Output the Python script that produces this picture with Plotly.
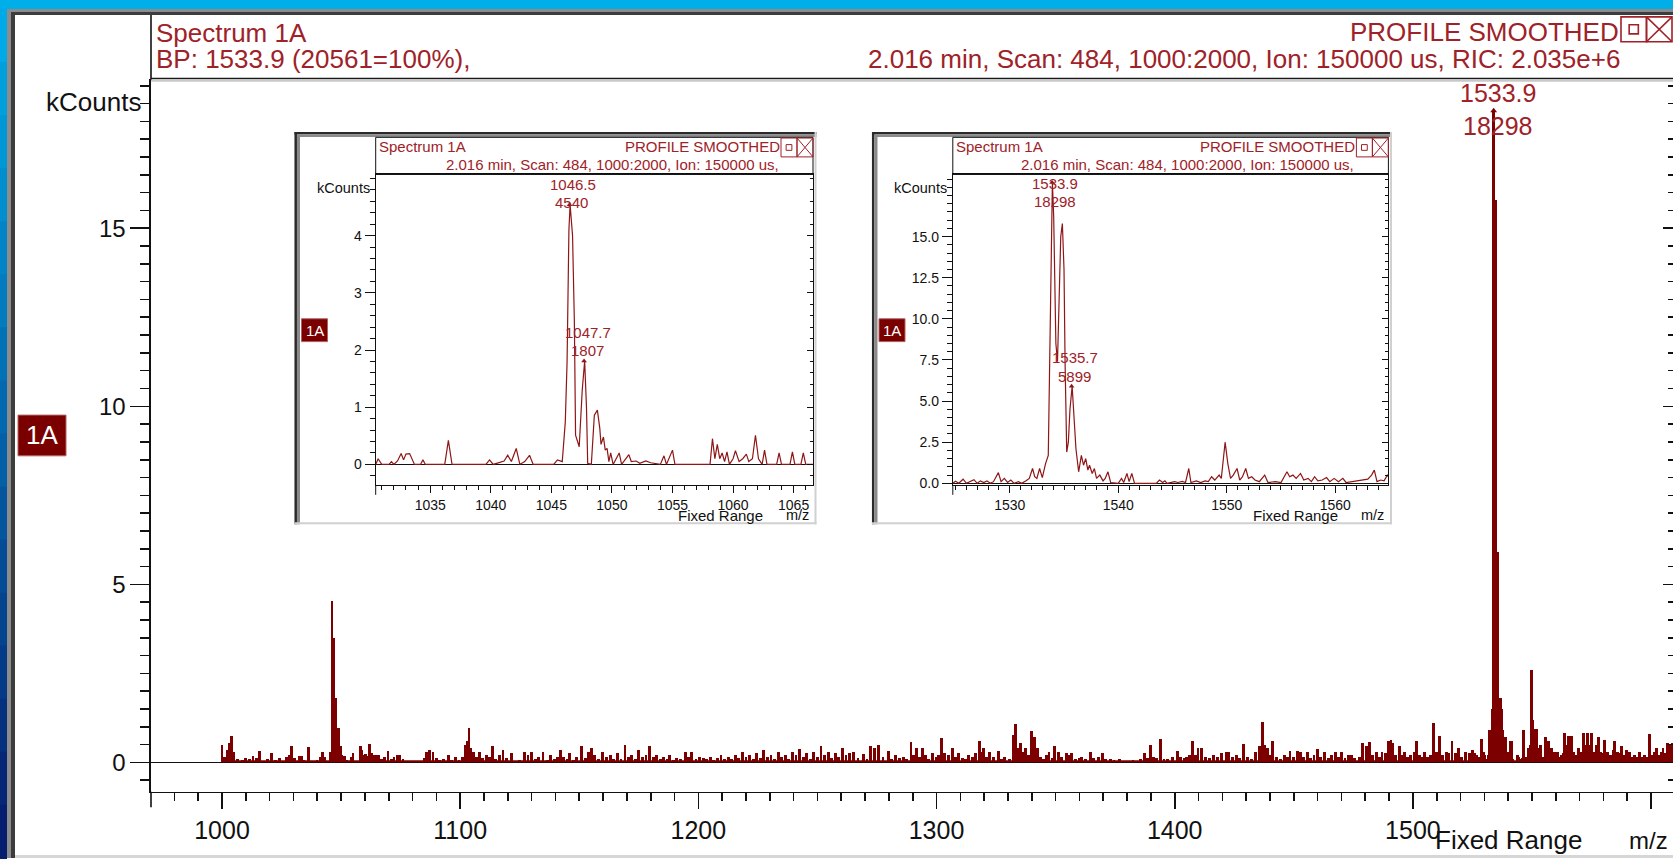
import plotly.graph_objects as go

W, H = 1673, 864

# ------------------------------------------------------------------ data
# main spectrum: (m/z, kCounts) sticks read from the full-range view
main_sticks = [
    (1000.0,0.49),(1001.0,0.15),(1002.2,0.35),(1003.0,0.55),(1004.0,0.73),(1005.0,0.30),(1006.5,0.10),(1008.5,0.08),(1010.0,0.12),(1011.5,0.10),
    (1013.0,0.18),(1014.5,0.12),(1015.6,0.33),(1017.5,0.05),(1019.0,0.10),(1020.8,0.27),(1022.5,0.08),(1024.0,0.12),(1025.5,0.05),(1027.0,0.15),
    (1028.2,0.20),(1029.2,0.45),(1030.5,0.12),(1031.8,0.05),(1032.6,0.19),(1033.3,0.19),(1034.4,0.08),(1035.5,0.03),(1036.5,0.42),(1038.0,0.02),
    (1039.9,0.08),(1041.4,0.16),(1042.1,0.28),(1043.2,0.16),(1044.3,0.03),(1045.5,0.30),
    (1046.2,4.54),(1046.9,3.50),(1047.6,1.80),(1048.3,0.97),(1049.0,0.97),(1049.7,0.45),(1050.4,0.20),
    (1051.4,0.17),(1052.5,0.06),(1053.5,0.05),(1054.3,0.15),(1055.0,0.25),(1056.0,0.02),(1057.0,0.02),(1058.3,0.45),(1058.8,0.35),(1059.5,0.22),
    (1060.2,0.24),(1061.1,0.18),(1061.85,0.51),(1062.6,0.25),(1063.8,0.20),(1064.9,0.22),(1065.8,0.20),
    (1067.0,0.10),(1068.2,0.15),(1069.7,0.33),(1071.0,0.10),(1072.2,0.15),(1073.5,0.20),(1074.7,0.22),(1076.0,0.10),(1077.5,0.05),(1079.0,0.04),
    (1080.5,0.05),(1082.0,0.04),(1083.5,0.05),(1085.0,0.12),(1086.0,0.30),(1087.2,0.35),(1088.6,0.30),(1090.0,0.12),(1091.5,0.08),(1093.0,0.10),
    (1095.0,0.20),(1096.5,0.08),(1098.0,0.15),(1099.5,0.06),(1101.0,0.15),(1102.2,0.50),(1103.0,0.60),(1103.7,0.97),(1104.5,0.40),(1105.5,0.30),
    (1106.8,0.15),(1108.0,0.30),(1109.5,0.12),(1111.0,0.20),(1112.3,0.15),(1113.6,0.45),(1115.0,0.10),(1116.5,0.20),(1118.0,0.35),(1119.5,0.12),
    (1121.6,0.25),(1123.0,0.05),(1125.0,0.08),(1127.0,0.30),(1128.5,0.20),(1130.0,0.30),(1131.5,0.10),(1133.0,0.15),(1134.8,0.28),(1136.5,0.08),
    (1138.0,0.20),(1139.5,0.10),(1141.0,0.15),(1142.0,0.35),(1143.5,0.15),(1145.0,0.10),(1146.0,0.25),(1147.5,0.08),(1149.0,0.15),(1151.0,0.45),
    (1152.5,0.12),(1153.7,0.28),(1155.1,0.40),(1156.5,0.20),(1158.0,0.10),(1159.8,0.30),(1161.5,0.15),(1163.0,0.20),(1164.5,0.10),(1166.0,0.25),
    (1167.5,0.10),(1169.2,0.50),(1170.8,0.15),(1172.0,0.20),(1173.5,0.10),(1174.8,0.35),(1176.5,0.15),(1178.0,0.20),(1179.5,0.46),(1181.0,0.15),
    (1182.5,0.20),(1184.0,0.10),(1185.5,0.15),(1187.0,0.10),(1188.0,0.20),(1189.5,0.08),(1191.0,0.12),(1192.5,0.10),(1194.5,0.30),(1196.0,0.15),
    (1197.3,0.30),(1199.0,0.10),(1200.5,0.15),(1202.0,0.12),(1203.5,0.10),(1205.0,0.15),(1206.5,0.08),(1208.0,0.12),(1209.5,0.20),(1211.0,0.10),
    (1212.5,0.15),(1214.0,0.10),(1215.5,0.20),(1217.0,0.12),(1218.5,0.30),(1220.0,0.15),(1221.5,0.20),(1223.0,0.10),(1224.5,0.25),(1226.0,0.12),
    (1227.5,0.35),(1229.0,0.15),(1230.5,0.20),(1232.0,0.10),(1233.5,0.30),(1235.0,0.15),(1236.5,0.22),(1238.0,0.10),(1239.5,0.30),(1241.0,0.20),
    (1242.5,0.38),(1244.0,0.15),(1245.5,0.25),(1247.0,0.10),(1248.5,0.30),(1250.0,0.15),(1251.5,0.45),(1253.0,0.20),(1254.5,0.30),(1256.0,0.12),
    (1257.5,0.25),(1259.0,0.15),(1260.5,0.40),(1262.0,0.20),(1263.5,0.25),
    (1265.2,0.29),(1267.0,0.12),(1269.2,0.23),(1270.8,0.10),(1272.4,0.45),(1274.0,0.40),(1275.7,0.50),(1277.5,0.15),(1279.7,0.33),(1281.2,0.10),
    (1282.9,0.20),(1284.5,0.12),(1286.0,0.15),(1287.5,0.10),(1289.3,0.57),(1290.5,0.20),(1291.7,0.40),(1293.0,0.15),(1294.1,0.40),(1295.5,0.20),
    (1296.8,0.10),(1298.2,0.25),(1299.8,0.15),(1301.0,0.20),(1302.2,0.68),(1303.5,0.25),(1305.0,0.20),(1306.7,0.40),(1308.0,0.15),(1309.4,0.25),
    (1311.0,0.12),(1312.0,0.10),(1313.4,0.20),(1315.0,0.15),(1316.5,0.25),(1317.9,0.60),(1319.0,0.30),(1319.8,0.40),(1321.0,0.15),(1322.3,0.28),
    (1324.0,0.15),(1325.9,0.33),(1327.2,0.10),(1328.7,0.15),(1330.5,0.10),(1332.4,0.77),(1333.2,1.07),(1334.2,0.40),(1335.1,0.54),(1336.3,0.30),
    (1337.5,0.40),(1338.7,0.20),(1339.9,0.88),(1341.0,0.72),(1342.3,0.40),(1343.5,0.15),(1345.0,0.10),(1346.0,0.20),(1347.2,0.30),(1348.5,0.12),
    (1349.6,0.45),(1351.2,0.30),(1352.5,0.15),(1354.4,0.25),(1355.5,0.20),(1356.8,0.25),(1358.5,0.10),(1360.0,0.12),(1360.8,0.15),(1362.5,0.10),
    (1364.5,0.30),(1366.0,0.12),(1368.0,0.15),(1369.7,0.25),(1371.0,0.10),(1372.9,0.10),(1374.5,0.08),(1376.9,0.10),(1378.5,0.05),(1380.9,0.05),
    (1382.5,0.08),(1384.1,0.05),(1385.8,0.10),(1387.3,0.27),(1388.5,0.12),(1389.8,0.50),(1391.0,0.15),(1392.5,0.12),(1394.1,0.66),(1395.5,0.10),
    (1397.0,0.10),(1399.0,0.15),(1401.0,0.33),(1402.5,0.15),(1404.0,0.12),(1405.0,0.15),(1406.2,0.20),(1407.4,0.60),(1408.6,0.20),(1409.8,0.40),
    (1411.4,0.40),(1412.8,0.15),(1414.5,0.12),(1416.3,0.20),(1418.0,0.15),(1419.5,0.26),(1421.5,0.30),(1422.7,0.30),(1424.2,0.15),(1425.9,0.20),
    (1427.3,0.12),(1428.8,0.52),(1430.5,0.15),(1432.3,0.10),(1434.0,0.30),(1435.6,0.45),(1436.8,1.13),(1437.8,0.50),(1438.8,0.40),(1440.0,0.20),
    (1441.2,0.60),(1442.8,0.15),(1444.4,0.10),(1446.0,0.20),(1447.2,0.15),(1448.4,0.33),(1450.0,0.15),(1451.6,0.33),(1452.8,0.30),(1454.2,0.15),
    (1455.7,0.30),(1457.0,0.12),(1458.5,0.20),(1459.9,0.38),(1461.3,0.15),(1462.9,0.30),(1464.5,0.12),(1466.0,0.20),(1467.4,0.28),(1468.7,0.15),
    (1470.1,0.28),(1471.5,0.12),(1473.0,0.20),(1474.1,0.20),(1475.5,0.12),(1477.5,0.15),(1479.0,0.54),(1480.4,0.45),(1481.8,0.56),(1483.2,0.20),
    (1484.6,0.30),(1486.0,0.15),(1487.0,0.30),(1488.5,0.25),(1489.8,0.60),(1490.8,0.63),(1491.5,0.55),(1492.8,0.20),(1494.2,0.45),(1495.2,0.20),
    (1496.3,0.30),(1497.8,0.15),(1499.0,0.20),(1500.5,0.30),(1501.5,0.60),(1502.8,0.20),(1504.0,0.15),(1504.7,0.30),(1506.0,0.15),(1507.3,0.20),
    (1508.6,1.10),(1510.0,0.30),(1511.3,0.73),(1512.5,0.20),(1514.0,0.30),(1515.0,0.25),(1516.4,0.60),(1517.8,0.25),(1519.0,0.40),(1520.5,0.15),
    (1522.0,0.30),(1523.9,0.25),(1525.0,0.35),(1525.7,0.25),(1526.7,0.22),(1527.6,0.15),(1528.95,0.65),(1529.5,0.30),(1530.1,0.20),(1530.9,0.10),
    (1531.5,0.20),
    (1532.1,0.90),(1532.75,0.90),(1533.3,1.50),(1533.9,18.298),(1534.35,15.8),(1534.85,15.8),(1535.3,5.90),(1535.75,5.90),(1536.25,1.80),(1536.7,1.80),
    (1537.2,1.50),(1537.7,0.90),(1538.3,0.50),(1539.05,0.70),(1539.7,0.20),(1540.3,0.30),(1540.8,0.60),(1541.25,0.60),
    (1542.0,0.10),(1543.0,0.05),(1543.8,0.20),(1544.3,0.15),(1545.2,0.10),(1545.9,0.12),(1546.5,0.90),(1547.3,0.15),(1548.0,0.15),(1548.6,0.40),
    (1549.3,0.50),(1549.85,2.60),(1550.3,1.20),(1550.95,0.95),(1551.75,0.95),(1552.3,0.40),(1553.0,0.15),(1553.5,0.50),(1554.5,0.15),(1555.55,0.72),
    (1556.1,0.50),(1556.8,0.60),(1557.5,0.30),(1558.1,0.40),(1558.9,0.30),(1559.5,0.20),(1560.0,0.30),(1560.7,0.30),(1561.5,0.15),(1562.3,0.20),
    (1563.0,0.25),(1563.6,0.82),(1564.2,0.30),(1564.8,0.50),(1565.2,0.73),(1566.0,0.40),(1566.6,0.73),(1567.5,0.30),(1568.5,0.20),(1569.6,0.40),
    (1570.5,0.30),(1571.5,0.82),(1572.3,0.50),(1573.2,0.82),(1574.0,0.50),(1575.0,0.82),(1576.0,0.30),(1577.0,0.50),(1577.8,0.72),(1578.8,0.30),
    (1579.8,0.25),(1580.6,0.63),(1581.8,0.30),(1583.0,0.20),(1584.0,0.35),(1584.8,0.60),(1585.8,0.30),(1586.8,0.25),(1587.6,0.45),(1588.6,0.20),
    (1589.5,0.35),(1590.3,0.20),(1591.0,0.30),(1592.0,0.15),(1593.0,0.20),(1594.0,0.15),(1595.3,0.30),(1596.3,0.15),(1597.3,0.20),(1598.2,0.15),
    (1599.2,0.79),(1600.2,0.20),(1601.2,0.30),(1602.3,0.40),(1603.3,0.20),(1604.2,0.30),(1605.0,0.40),(1606.0,0.25),(1607.0,0.54),(1608.0,0.50),
    (1609.0,0.54),
]
# continuous noise floor under the sticks (kCounts)
noise_floor_kc = 0.06

# zoomed profile 1 (m/z 1030.5 - 1066.6): vertices of the smoothed profile
inset1_profile = [
    (1030.5,0.0),(1030.7,0.10),(1031.0,0.0),(1031.6,0.0),(1031.8,0.05),(1032.0,0.0),(1032.3,0.06),(1032.6,0.19),(1032.8,0.08),(1033.0,0.18),
    (1033.3,0.19),(1033.5,0.10),(1033.7,0.0),(1034.2,0.0),(1034.4,0.08),(1034.6,0.0),(1036.2,0.0),(1036.5,0.42),(1036.8,0.0),(1039.6,0.0),
    (1039.9,0.08),(1040.2,0.0),(1041.1,0.06),(1041.4,0.16),(1041.7,0.05),(1042.1,0.28),(1042.4,0.0),(1042.8,0.05),(1043.2,0.16),(1043.5,0.0),
    (1045.2,0.0),(1045.5,0.08),(1045.9,0.05),(1046.15,0.74),(1046.3,1.80),(1046.45,4.10),(1046.55,4.54),(1046.75,4.00),(1046.9,2.50),(1047.0,0.51),
    (1047.3,0.31),(1047.55,1.30),(1047.75,1.807),(1047.9,1.00),(1048.0,0.02),(1048.3,0.0),(1048.55,0.86),(1048.8,0.95),(1049.0,0.63),(1049.1,0.35),
    (1049.3,0.48),(1049.45,0.25),(1049.6,0.28),(1049.75,0.05),(1049.9,0.20),(1050.1,0.0),(1050.6,0.20),(1050.8,0.0),(1051.4,0.17),(1051.6,0.05),
    (1052.0,0.06),(1052.3,0.02),(1052.8,0.06),(1053.2,0.03),(1054.0,0.0),(1054.3,0.15),(1054.5,0.0),(1055.0,0.25),(1055.2,0.0),(1058.1,0.0),
    (1058.3,0.45),(1058.5,0.10),(1058.7,0.35),(1058.9,0.10),(1059.1,0.20),(1059.3,0.05),(1059.5,0.22),(1059.7,0.0),(1060.0,0.10),(1060.2,0.24),
    (1060.5,0.05),(1060.8,0.10),(1061.1,0.18),(1061.3,0.05),(1061.6,0.10),(1061.85,0.51),(1062.1,0.10),(1062.4,0.0),(1062.6,0.25),(1062.8,0.0),
    (1063.6,0.0),(1063.8,0.20),(1064.0,0.0),(1064.7,0.0),(1064.9,0.22),(1065.1,0.0),(1065.6,0.0),(1065.8,0.20),(1066.0,0.0),(1066.6,0.0),
]

# zoomed profile 2 (m/z 1524.75 - 1564.9)
inset2_profile = [
    (1524.75,0.0),(1525.0,0.12),(1525.3,0.0),(1525.7,0.25),(1526.0,0.0),(1526.4,0.10),(1526.7,0.22),(1527.0,0.0),(1527.3,0.15),(1527.6,0.05),
    (1527.9,0.15),(1528.2,0.0),(1528.5,0.10),(1528.95,0.65),(1529.2,0.10),(1529.5,0.30),(1529.8,0.05),(1530.1,0.20),(1530.4,0.0),(1530.8,0.10),
    (1531.1,0.0),(1531.5,0.15),(1531.8,0.30),(1532.1,0.90),(1532.3,0.40),(1532.5,0.30),(1532.75,0.90),(1533.0,0.35),(1533.3,1.20),(1533.55,1.70),
    (1533.65,5.70),(1533.75,11.2),(1533.85,16.4),(1533.93,18.298),(1534.05,16.2),(1534.15,11.8),(1534.25,8.50),(1534.4,7.40),(1534.55,11.0),(1534.7,15.0),
    (1534.85,15.8),(1535.0,13.0),(1535.1,7.30),(1535.25,1.90),(1535.4,2.50),(1535.55,4.50),(1535.75,5.899),(1535.9,4.10),(1536.1,2.10),(1536.35,0.70),
    (1536.6,1.70),(1536.8,1.10),(1537.0,1.50),(1537.2,0.80),(1537.35,1.10),(1537.6,0.60),(1537.8,0.90),(1538.0,0.30),(1538.3,0.50),(1538.6,0.15),
    (1538.8,0.30),(1539.05,0.70),(1539.3,0.05),(1540.0,0.0),(1540.3,0.30),(1540.5,0.05),(1540.8,0.60),(1541.0,0.10),(1541.25,0.60),(1541.5,0.0),
    (1543.5,0.0),(1543.8,0.20),(1544.1,0.05),(1544.3,0.15),(1544.5,0.0),(1545.2,0.10),(1545.5,0.05),(1545.9,0.12),(1546.2,0.05),(1546.5,0.90),
    (1546.7,0.05),(1547.2,0.15),(1547.6,0.05),(1548.0,0.15),(1548.3,0.10),(1548.6,0.40),(1548.9,0.20),(1549.3,0.50),(1549.5,0.30),(1549.85,2.50),
    (1550.1,1.20),(1550.35,0.30),(1550.6,0.50),(1550.95,0.90),(1551.2,0.20),(1551.45,0.40),(1551.75,0.90),(1552.0,0.30),(1552.3,0.40),(1552.6,0.20),
    (1553.0,0.10),(1553.5,0.50),(1553.8,0.05),(1554.5,0.10),(1555.0,0.05),(1555.55,0.70),(1555.8,0.40),(1556.1,0.50),(1556.4,0.30),(1556.8,0.60),
    (1557.1,0.20),(1557.5,0.30),(1557.8,0.10),(1558.1,0.40),(1558.4,0.15),(1558.8,0.20),(1559.2,0.35),(1559.5,0.10),(1559.9,0.30),(1560.3,0.10),
    (1560.7,0.30),(1561.0,0.05),(1561.5,0.10),(1562.0,0.15),(1562.5,0.20),(1563.0,0.25),(1563.35,0.50),(1563.6,0.80),(1563.85,0.10),(1564.2,0.20),
    (1564.5,0.15),(1564.8,0.50),(1564.9,0.40),
]

main_peak_mz = [1533.9]
main_peak_kc = [18.298]
inset1_peak_mz = [1046.5, 1047.7]
inset1_peak_kc = [4.540, 1.807]
inset2_peak_mz = [1533.9, 1535.7]
inset2_peak_kc = [18.298, 5.899]

main_xtick_vals = [1000, 1100, 1200, 1300, 1400, 1500, 1600]
main_xtick_text = ["1000", "1100", "1200", "1300", "1400", "1500", ""]
main_ytick_vals = [0, 5, 10, 15]
inset1_xtick_vals = [1035, 1040, 1045, 1050, 1055, 1060, 1065]
inset1_ytick_vals = [0, 1, 2, 3, 4]
inset2_xtick_vals = [1530, 1540, 1550, 1560]
inset2_ytick_vals = [0, 2.5, 5, 7.5, 10, 12.5, 15]
inset2_ytick_text = ["0.0", "2.5", "5.0", "7.5", "10.0", "12.5", "15.0"]

title_text = "Spectrum 1A"
bp_text = "BP: 1533.9 (20561=100%),"
mode_text = "PROFILE SMOOTHED"
scan_text_main = "2.016 min, Scan: 484, 1000:2000, Ion: 150000 us, RIC: 2.035e+6"
scan_text_inset = "2.016 min, Scan: 484, 1000:2000, Ion: 150000 us,"
y_title = "kCounts"
x_note = "Fixed Range"
x_unit = "m/z"
trace_tag = "1A"

main_mz = [p[0] for p in main_sticks]
main_kc = [p[1] for p in main_sticks]
inset1_mz = [p[0] for p in inset1_profile]
inset1_kc = [p[1] for p in inset1_profile]
inset2_mz = [p[0] for p in inset2_profile]
inset2_kc = [p[1] for p in inset2_profile]

# ------------------------------------------------------------------ style
FONT = "Liberation Sans"
TXT_RED = "#9e2228"
TRACE_RED = "#7d0000"
LINE_RED = "#8e1616"
BLACK = "#111111"


def px(x):
    return x / W


def py(y):
    return 1 - y / H


shapes = []
annotations = []


def rect(x0, y0, x1, y1, fill=None, line=None, lw=0, layer="above"):
    shapes.append(dict(type="rect", xref="paper", yref="paper",
                       x0=px(x0), x1=px(x1), y0=py(y1), y1=py(y0),
                       fillcolor=fill or "rgba(0,0,0,0)",
                       line=dict(color=line or "rgba(0,0,0,0)", width=lw),
                       layer=layer))


def seg(x0, y0, x1, y1, color, lw, layer="above"):
    shapes.append(dict(type="line", xref="paper", yref="paper",
                       x0=px(x0), y0=py(y0), x1=px(x1), y1=py(y1),
                       line=dict(color=color, width=lw), layer=layer))


def text(t, x, y, anchor="left", size=26, color=TXT_RED):
    annotations.append(dict(text=t, x=px(x), y=py(y), xref="paper", yref="paper",
                            xanchor=anchor, yanchor="middle", showarrow=False,
                            borderpad=0, borderwidth=0,
                            font=dict(family=FONT, size=size, color=color)))


def icons(x0, y0, x1, y1, lw):
    mid = (x0 + x1) / 2
    rect(x0, y0, mid, y1, line=TXT_RED, lw=lw)
    w = (mid - x0) * 0.36
    cy = (y0 + y1) / 2
    cx = (x0 + mid) / 2
    rect(cx - w / 2, cy - w / 2, cx + w / 2, cy + w / 2, line=TXT_RED, lw=lw)
    rect(mid, y0, x1, y1, line=TXT_RED, lw=lw)
    seg(mid, y0, x1, y1, TXT_RED, lw)
    seg(mid, y1, x1, y0, TXT_RED, lw)


def tag_box(x0, y0, x1, y1, size):
    rect(x0, y0, x1, y1, fill="#7a0000", line="#b06060", lw=1)
    text(trace_tag, (x0 + x1) / 2, (y0 + y1) / 2, "center", size, "white")


# window frame
rect(0, 0, W, 9, fill="#00aeea")
top_c = (0, 170, 232)
bot_c = (6, 30, 110)
N = 16
for i in range(N):
    f = i / (N - 1)
    c = tuple(int(top_c[k] + (bot_c[k] - top_c[k]) * f) for k in range(3))
    rect(0, 9 + i * (H - 9) / N, 7, 9 + (i + 1) * (H - 9) / N + 1, fill="rgb(%d,%d,%d)" % c)
rect(7, 9, W, 12, fill="#8c8c8c")
rect(7, 9, 11, H, fill="#8c8c8c")
rect(11, 12, W, 15, fill="#3c3c3c")
rect(11, 12, 15, H, fill="#3c3c3c")
rect(15, 861, W, H, fill="#d6d6d6")

# main plot geometry (pixels)
MX0, MX1, MY0, MY1 = 151, 1673, 80, 797.3
main_xr = [970.2, 1609.2]
main_yr = [-0.826, 19.18]

seg(MX0, 79, W, 79, "#1a1a1a", 1.6)
seg(MX0, 81.5, W, 81.5, "#a0a0a0", 1)
seg(MX0, 15, MX0, 80, BLACK, 1.6)
seg(MX0, MY1, MX0, 813, BLACK, 1.6)
text(title_text, 156, 33, "left", 26)
text(bp_text, 156, 59, "left", 26)
text(mode_text, 1619, 32, "right", 26)
text(scan_text_main, 1620, 59, "right", 26)
icons(1621, 17, 1672, 42, 1.6)
text(y_title, 141, 103, "right", 26, BLACK)
text(x_note, 1435, 846, "left", 26, BLACK)
text(x_unit, 1629, 846, "left", 24, BLACK)
tag_box(18, 418, 66, 459, 26)

# inset geometry
insets = [
    dict(frame=(294.5, 133, 816.5, 528), plot=(375.7, 175.7, 813, 488.3)),
    dict(frame=(872, 133, 1392, 528), plot=(952.8, 175.7, 1388.4, 488.3)),
]
for ins in insets:
    fx0, fy0, fx1, fy1 = ins["frame"]
    x0, y0, x1, y1 = ins["plot"]
    rect(fx0, fy0, fx1, fy1, fill="white", layer="below")
    seg(fx0 + 1.2, fy0, fx0 + 1.2, fy1, "#2a2a2a", 2.5)
    seg(fx0, fy0 + 1.2, fx1, fy0 + 1.2, "#2a2a2a", 2.5)
    seg(fx0 + 4, fy0 + 2.5, fx0 + 4, fy1, "#8a8a8a", 3)
    seg(fx0 + 2.5, fy0 + 4, fx1, fy0 + 4, "#8a8a8a", 2)
    seg(fx1 - 1, fy0, fx1 - 1, fy1, "#d0d0d0", 2)
    seg(fx0, fy1 - 1, fx1, fy1 - 1, "#d0d0d0", 2)
    rect(x0, 138.3, x1, y0, line=BLACK, lw=1)
    seg(x0, y1, x0, y1 + 10, BLACK, 1)
    icons(x1 - 32, 139, x1, 158, 1)
    text(title_text, x0 + 3, 147.5, "left", 15)
    text(mode_text, x1 - 33, 147.5, "right", 15)
    text(scan_text_inset, x1 - 34, 166, "right", 15)
    text(y_title, x0 - 6, 189.3, "right", 14.5, BLACK)
    text(x_note, x1 - 135.3, 519, "left", 15, BLACK)
    text(x_unit, x1 - 27, 519, "left", 14.5, BLACK)
    tag_box(fx0 + 7, 321, fx0 + 33, 344, 15)

ins1_xr = [1030.5, 1066.6]
ins1_yr = [-0.358, 5.069]
ins2_xr = [1524.75, 1564.9]
ins2_yr = [-0.097, 18.78]


# ------------------------------------------------------------------ axes
def xaxis(dom, rng, vals, texts, minor_dtick, minor_t0, tlen, mlen, fsize, lw, anchor, mirror):
    return dict(domain=[px(dom[0]), px(dom[1])], range=rng, anchor=anchor,
                tickmode="array", tickvals=vals, ticktext=texts,
                ticks="outside", ticklen=tlen, tickwidth=lw, tickcolor=BLACK,
                minor=dict(tickmode="linear", dtick=minor_dtick, tick0=minor_t0, ticks="outside",
                           ticklen=mlen, tickwidth=lw, tickcolor=BLACK),
                showline=True, linecolor=BLACK, linewidth=lw, mirror=mirror,
                showgrid=False, zeroline=False, fixedrange=True,
                tickfont=dict(family=FONT, size=fsize, color=BLACK))


def yaxis(dom, rng, vals, texts, minor_dtick, tlen, mlen, fsize, lw, anchor, mirror):
    return dict(domain=[py(dom[1]), py(dom[0])], range=rng, anchor=anchor,
                tickmode="array", tickvals=vals, ticktext=texts,
                ticks="outside", ticklen=tlen, tickwidth=lw, tickcolor=BLACK,
                minor=dict(tickmode="linear", dtick=minor_dtick, tick0=0, ticks="outside",
                           ticklen=mlen, tickwidth=lw, tickcolor=BLACK),
                showline=True, linecolor=BLACK, linewidth=lw, mirror=mirror,
                showgrid=False, zeroline=True, zerolinecolor=BLACK, zerolinewidth=lw,
                fixedrange=True, tickfont=dict(family=FONT, size=fsize, color=BLACK))


def right_ticks(over, anchor, rng, vals, minor_dtick, tlen, mlen, lw):
    return dict(overlaying=over, anchor=anchor, side="right", range=rng,
                tickmode="array", tickvals=vals, ticks="inside", ticklen=tlen,
                tickwidth=lw, tickcolor=BLACK, showticklabels=False,
                minor=dict(tickmode="linear", dtick=minor_dtick, tick0=0, ticks="inside",
                           ticklen=mlen, tickwidth=lw, tickcolor=BLACK),
                showline=False, showgrid=False, zeroline=False, fixedrange=True)


fig = go.Figure()
fig.add_trace(go.Scatter(x=[min(main_mz), max(main_mz)], y=[noise_floor_kc, noise_floor_kc],
                         mode="none", fill="tozeroy", fillcolor=TRACE_RED,
                         xaxis="x", yaxis="y", hoverinfo="skip", showlegend=False))
fig.add_trace(go.Bar(x=main_mz, y=main_kc, width=1.2,
                     marker=dict(color=TRACE_RED, line=dict(width=0)),
                     xaxis="x", yaxis="y", hoverinfo="skip", showlegend=False))
fig.add_trace(go.Scatter(x=main_peak_mz, y=main_peak_kc, mode="markers",
                         marker=dict(symbol="triangle-up", size=6, color=TRACE_RED),
                         xaxis="x", yaxis="y", hoverinfo="skip", showlegend=False))
fig.add_trace(go.Scatter(x=[], y=[], xaxis="x", yaxis="y2", showlegend=False))

fig.add_trace(go.Scatter(x=inset1_mz, y=inset1_kc, mode="lines",
                         line=dict(color=LINE_RED, width=1.2),
                         xaxis="x2", yaxis="y3", hoverinfo="skip", showlegend=False))
fig.add_trace(go.Scatter(x=inset1_peak_mz, y=inset1_peak_kc, mode="markers",
                         marker=dict(symbol="triangle-up", size=5, color=LINE_RED),
                         xaxis="x2", yaxis="y3", hoverinfo="skip", showlegend=False))
fig.add_trace(go.Scatter(x=[], y=[], xaxis="x2", yaxis="y4", showlegend=False))

fig.add_trace(go.Scatter(x=inset2_mz, y=inset2_kc, mode="lines",
                         line=dict(color=LINE_RED, width=1.2),
                         xaxis="x3", yaxis="y5", hoverinfo="skip", showlegend=False))
fig.add_trace(go.Scatter(x=inset2_peak_mz, y=inset2_peak_kc, mode="markers",
                         marker=dict(symbol="triangle-up", size=5, color=LINE_RED),
                         xaxis="x3", yaxis="y5", hoverinfo="skip", showlegend=False))
fig.add_trace(go.Scatter(x=[], y=[], xaxis="x3", yaxis="y6", showlegend=False))


# peak labels (position and value), offsets in pixels
def peak_labels(xref, yref, mzs, kcs, offsets, size):
    for mz, kc, (dx1, dy1, dx2, dy2) in zip(mzs, kcs, offsets):
        for t, dx, dy in (("%.1f" % mz, dx1, dy1), ("%d" % round(kc * 1000), dx2, dy2)):
            annotations.append(dict(text=t, x=mz, y=kc, xref=xref, yref=yref,
                                    xshift=dx, yshift=dy, showarrow=False,
                                    xanchor="center", yanchor="middle", borderpad=0,
                                    font=dict(family=FONT, size=size, color=TXT_RED)))


peak_labels("x", "y", main_peak_mz, main_peak_kc, [(4.6, 17.7, 4.3, -14.8)], 25)
peak_labels("x2", "y3", inset1_peak_mz, inset1_peak_kc,
            [(3, 20.7, 2.4, 2.2), (3.8, 28.6, 3.3, 10.6)], 15)
peak_labels("x3", "y5", inset2_peak_mz, inset2_peak_kc,
            [(3, -0.8, 3, -19.3), (3.5, 28.5, 2.5, 10)], 15)

i1 = insets[0]["plot"]
i2 = insets[1]["plot"]
fig.update_layout(
    width=W, height=H, margin=dict(l=0, r=0, t=0, b=0),
    paper_bgcolor="white", plot_bgcolor="rgba(0,0,0,0)",
    showlegend=False, bargap=0,
    xaxis=xaxis((MX0, MX1), main_xr, main_xtick_vals, main_xtick_text, 10, 1000, 16, 8, 25, 1.6, "y", False),
    yaxis=yaxis((MY0, MY1), main_yr, main_ytick_vals, [str(v) for v in main_ytick_vals], 0.5, 19, 9.5, 24, 1.6, "x", False),
    yaxis2=right_ticks("y", "x", main_yr, main_ytick_vals, 0.5, 10, 5, 1.6),
    xaxis2=xaxis((i1[0], i1[2]), ins1_xr, inset1_xtick_vals, [str(v) for v in inset1_xtick_vals], 1, 1030, 7, 4, 14, 1, "y3", True),
    yaxis3=yaxis((i1[1], i1[3]), ins1_yr, inset1_ytick_vals, [str(v) for v in inset1_ytick_vals], 0.2, 10, 5, 14, 1, "x2", True),
    yaxis4=right_ticks("y3", "x2", ins1_yr, inset1_ytick_vals, 0.2, 6, 3, 1),
    xaxis3=xaxis((i2[0], i2[2]), ins2_xr, inset2_xtick_vals, [str(v) for v in inset2_xtick_vals], 1, 1520, 7, 4, 14, 1, "y5", True),
    yaxis5=yaxis((i2[1], i2[3]), ins2_yr, inset2_ytick_vals, inset2_ytick_text, 0.5, 10, 5, 14, 1, "x3", True),
    yaxis6=right_ticks("y5", "x3", ins2_yr, inset2_ytick_vals, 0.5, 6, 3, 1),
    shapes=shapes, annotations=annotations,
)

fig.write_html(
    "out.html",
    config={"displayModeBar": False, "staticPlot": True},
    post_script="document.body.style.margin='0px';document.body.style.overflow='hidden';",
)
